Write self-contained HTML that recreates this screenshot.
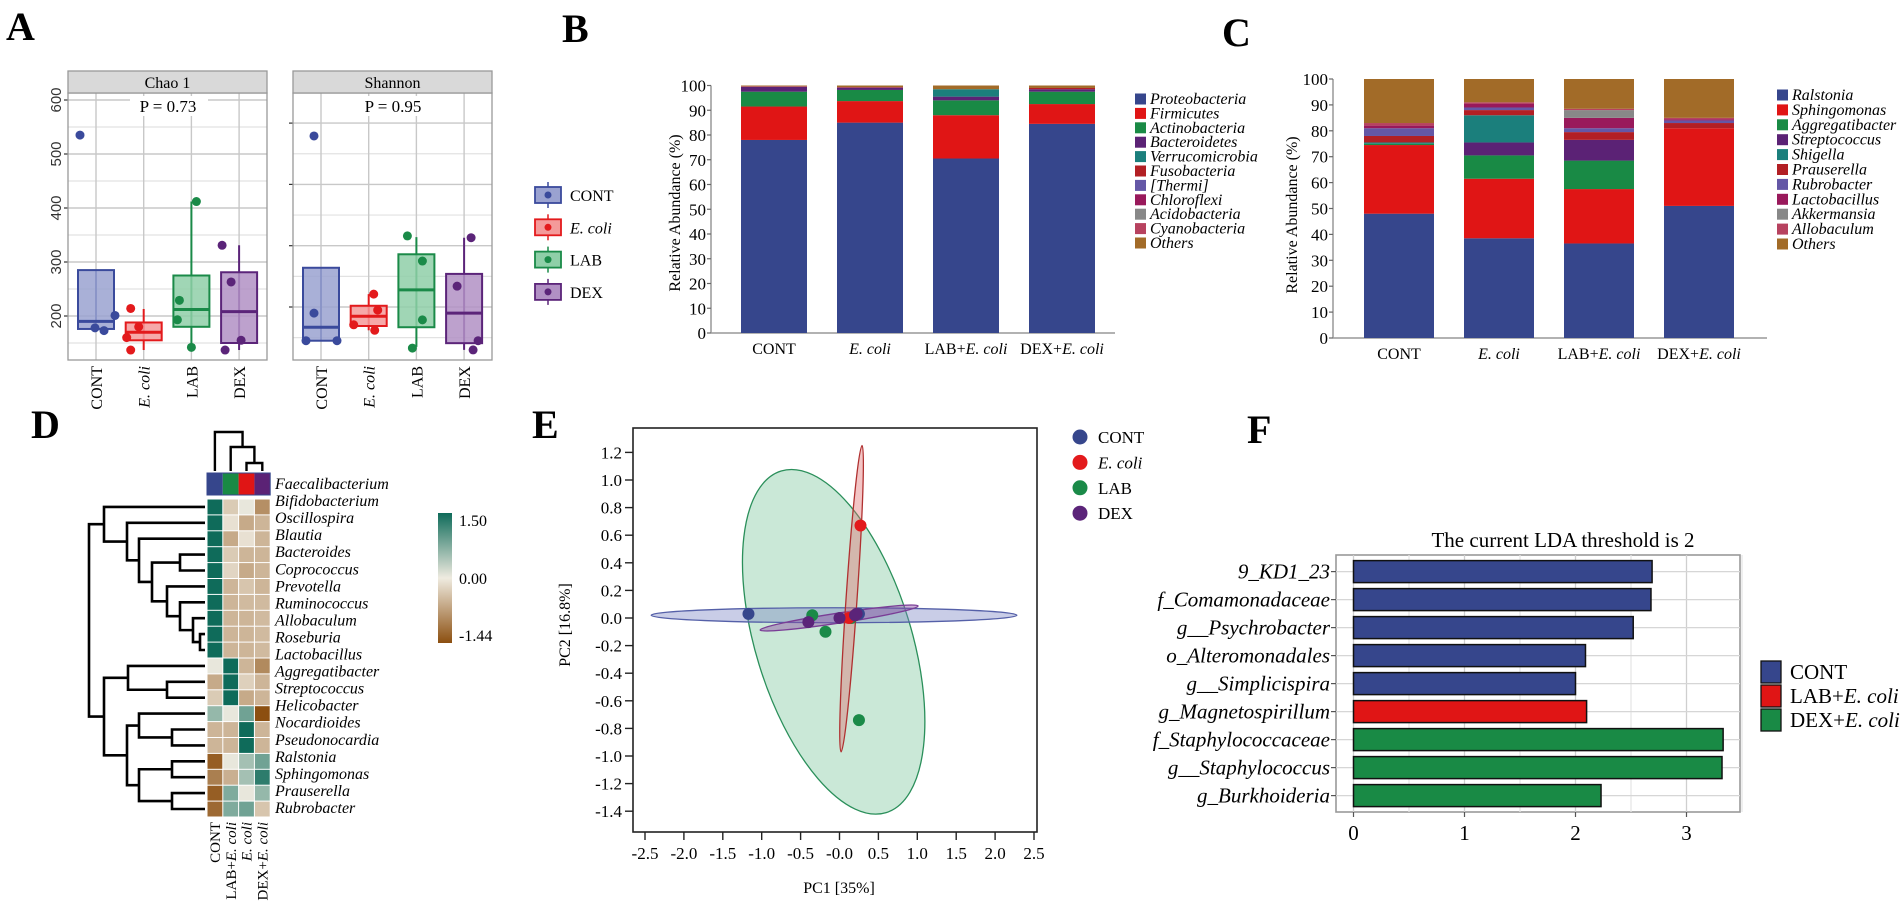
<!DOCTYPE html>
<html><head><meta charset="utf-8">
<style>
html,body{margin:0;padding:0;background:#fff;}
svg{display:block;font-family:"Liberation Serif",serif;}
.lbl{font-family:"Liberation Serif",serif;font-weight:bold;font-size:40px;}
</style></head>
<body>
<svg id="fig" xmlns="http://www.w3.org/2000/svg" width="1902" height="910" viewBox="0 0 1902 910">
<rect x="0" y="0" width="1902" height="910" fill="#fff"/>
<text class="lbl" x="6" y="40">A</text>
<text class="lbl" x="562" y="42">B</text>
<text class="lbl" x="1222" y="46">C</text>
<text class="lbl" x="31" y="438">D</text>
<text class="lbl" x="532" y="438">E</text>
<text class="lbl" x="1247" y="443">F</text>
</svg>
<script>
// ---------- DATA ----------
// Panel A (alpha diversity)
const aGroups = ['CONT','E. coli','LAB','DEX'];
const chaoQ1 = [176,155,180,150];
const chaoMed = [190,170,212,208];
const chaoQ3 = [285,188,275,281];
const chaoWlo = [176,137,142,137];
const chaoWhi = [285,213,412,331];
const chaoPts = [[535,201,178,173],[214,180,160,137],[412,229,193,142],[331,263,155,137]];
const chaoTicks = [200,300,400,500,600];
const shanQ1 = [0.45,0.69,0.67,0.41];
const shanMed = [0.67,0.85,1.28,0.90];
const shanQ3 = [1.64,1.02,1.86,1.54];
const shanWlo = [0.45,0.62,0.35,0.30];
const shanWhi = [1.64,1.21,2.14,2.13];
const shanPts = [[3.79,0.90,0.45,0.45],[1.21,0.95,0.71,0.62],[2.16,1.75,0.79,0.33],[2.13,1.34,0.45,0.30]];
const shanTicks = [1,2,3,4];
// Panel B (phylum)
const bCats = ['CONT','E. coli','LAB+E. coli','DEX+E. coli'];
const bTaxa = ['Proteobacteria','Firmicutes','Actinobacteria','Bacteroidetes','Verrucomicrobia','Fusobacteria','[Thermi]','Chloroflexi','Acidobacteria','Cyanobacteria','Others'];
const bCONT = [78,13.5,6,2,0,0.2,0,0,0,0,0.3];
const bECOLI = [85,8.7,4.5,0.8,0,0,0,0.3,0,0,0.7];
const bLAB = [70.5,17.5,6,1.5,3,0,0,0,0,0,1.5];
const bDEX = [84.5,8,5,1,0,0.5,0,0,0,0,1];
const pctTicks = [0,10,20,30,40,50,60,70,80,90,100];
// Panel C (genus)
const cTaxa = ['Ralstonia','Sphingomonas','Aggregatibacter','Streptococcus','Shigella','Prauserella','Rubrobacter','Lactobacillus','Akkermansia','Allobaculum','Others'];
const cCONT = [48,26.5,0.5,0,0.5,2.5,3,1,0,1,17];
const cECOLI = [38.5,23,9,5,10.5,2,1,1.5,0,0.5,9];
const cLAB = [36.5,21,11,8,0,3,1.5,4,3,0.5,11.5];
const cDEX = [51,30,0,0,0,2,1,0.5,0,0.5,15];
// Panel D (heatmap)
const dRowLabels = ['Faecalibacterium','Bifidobacterium','Oscillospira','Blautia','Bacteroides','Coprococcus','Prevotella','Ruminococcus','Allobaculum','Roseburia','Lactobacillus','Aggregatibacter','Streptococcus','Helicobacter','Nocardioides','Pseudonocardia','Ralstonia','Sphingomonas','Prauserella','Rubrobacter'];
const dCols = ['CONT','LAB+E. coli','E. coli','DEX+E. coli'];
const dVals = [
 [1.5,-0.3,0.05,-0.85],[1.5,-0.1,-0.6,-0.5],[1.5,-0.6,-0.1,-0.5],[1.5,-0.3,-0.5,-0.5],
 [1.5,-0.2,-0.6,-0.5],[1.5,-0.5,-0.35,-0.5],[1.5,-0.5,-0.45,-0.45],[1.5,-0.5,-0.5,-0.45],
 [1.5,-0.5,-0.5,-0.45],[1.5,-0.5,-0.5,-0.45],[0.05,1.5,-0.5,-0.9],[-0.6,1.5,-0.25,-0.5],
 [-0.3,1.5,-0.6,-0.5],[0.6,0.05,0.85,-1.44],[-0.5,-0.5,1.5,-0.5],[-0.5,-0.5,1.5,-0.5],
 [-1.3,0.05,0.5,0.85],[-1.0,-0.55,0.5,1.3],[-1.3,0.75,0.05,0.6],[-1.2,0.75,0.85,-0.35]];
const dRowMerges = [[8,9,200],[7,'n0',193],[6,'n1',180],[5,'n2',167],[3,4,180],['n4','n3',152],[2,'n5',139],[1,'n6',127],[0,'n7',104],
 [11,12,167],[10,'n9',128],[14,15,172],[13,'n11',139],[16,17,172],[18,19,172],['n13','n14',139],['n12','n15',127],['n10','n16',104],['n8','n17',89]];
const dColMerges = [[2,3,463],[1,'n0',447],[0,'n1',432]];
// Panel E (PCoA)
const eGroups = ['CONT','E. coli','LAB','DEX'];
const eXs = [[-1.17,0.22,0.25],[0.27,0.12,0.2],[-0.35,-0.18,0.25,0.15],[-0.4,0.0,0.2,0.22]];
const eYs = [[0.03,0.03,0.03],[0.67,0.0,0.02],[0.02,-0.1,-0.74,0.0],[-0.03,0.0,0.02,0.03]];
const eEll = [[-2.42,0.02,2.28,0.02],[0.29,1.25,0.02,-0.97],[-0.75,1.065,0.6,-1.41],[-1.02,-0.087,1.01,0.087]];
const eXTicks = [-2.5,-2,-1.5,-1,-0.5,0,0.5,1,1.5,2,2.5];
const eXTickLabels = ['-2.5','-2.0','-1.5','-1.0','-0.5','-0.0','0.5','1.0','1.5','2.0','2.5'];
const eYTicks = [1.2,1.0,0.8,0.6,0.4,0.2,0.0,-0.2,-0.4,-0.6,-0.8,-1.0,-1.2,-1.4];
// Panel F (LEfSe)
const fTaxa = ['9_KD1_23','f_Comamonadaceae','g__Psychrobacter','o_Alteromonadales','g__Simplicispira','g_Magnetospirillum','f_Staphylococcaceae','g__Staphylococcus','g_Burkhoideria'];
const fLDA = [2.69,2.68,2.52,2.09,2.0,2.1,3.33,3.32,2.23];
const fGroup = [0,0,0,0,0,1,2,2,2];
const fTicks = [0,1,2,3];

// ---------- HELPERS ----------
const NS='http://www.w3.org/2000/svg';
const svg=document.getElementById('fig');
function mk(tag,attrs,parent){const e=document.createElementNS(NS,tag);for(const k in attrs)e.setAttribute(k,attrs[k]);(parent||svg).appendChild(e);return e;}
function tx(str,attrs,parent){const e=mk('text',attrs,parent);e.textContent=str;return e;}
function italicLabel(str,attrs,parent){ // "LAB+E. coli" -> plain prefix + italic E. coli
  const e=mk('text',attrs,parent);const i=str.indexOf('E. coli');
  if(i<0){e.textContent=str;return e;}
  if(i>0){const t=mk('tspan',{},e);t.textContent=str.slice(0,i);}
  const t2=mk('tspan',{'font-style':'italic'},e);t2.textContent='E. coli';return e;}
function hex(c){return [parseInt(c.slice(1,3),16),parseInt(c.slice(3,5),16),parseInt(c.slice(5,7),16)];}
function mix(a,b,t){const A=hex(a),B=hex(b);return 'rgb('+A.map((v,i)=>Math.round(v+(B[i]-v)*t)).join(',')+')';}

// ---------- PANEL A ----------
const aCol=['#3a4a9c','#e31a1c','#1a8a48','#5b2479'];
const aFill=['#9aa2d0','#f49a9a','#8fcfa8','#b190c4'];
const gA=mk('g',{});


const chaoY=v=>316-(v-200)*0.54;
const shanY=u=>307-(u-1)*61.3;
function facet(left,title,yf,ticks,Q1,MED,Q3,WLO,WHI,PTS,pval,jit,showLabels,name){
  const g=mk('g',{},gA);
  
  
  const top=93,bot=360,w=199;
  // minor grid
  for(let k=0;k<ticks.length;k++){const y=yf(ticks[k])+ (yf(ticks[0])-yf(ticks[1]))/2;
    if(y>top&&y<bot){const l=mk('line',{x1:left,x2:left+w,y1:y,y2:y,stroke:'#e2e2e2','stroke-width':1.2},g);
    }}
  for(let k=0;k<ticks.length;k++){const y=yf(ticks[k]);if(y<top)continue;
    const l=mk('line',{x1:left,x2:left+w,y1:y,y2:y,stroke:'#c8c8c8','stroke-width':1.4},g);
    
    const t=mk('line',{x1:left-4,x2:left,y1:y,y2:y,stroke:'#333','stroke-width':1.2},g);
    
    if(showLabels){const lb=tx(String(ticks[k]),{x:0,y:0,transform:'translate(61,'+y+') rotate(-90)','text-anchor':'middle','font-family':'Liberation Sans, sans-serif','font-size':15,fill:'#333'},g);
      }}
  for(let i=0;i<4;i++){const x=left+28+i*47.7;
    const l=mk('line',{x1:x,x2:x,y1:top,y2:bot,stroke:'#c8c8c8','stroke-width':1.4},g);
    }
  const pb=mk('rect',{x:left+62,y:96,width:78,height:20,fill:'#fff'},g);
  
  const pt=tx('P  =  '+pval,{x:left+100,y:112,'text-anchor':'middle','font-size':17},g);
  
  for(let i=0;i<4;i++){const x=left+28+i*47.7;
    const wl=mk('line',{x1:x,x2:x,y1:yf(WHI[i]),y2:yf(WLO[i]),stroke:aCol[i],'stroke-width':2},g);
    
    const b=mk('rect',{x:x-18,y:yf(Q3[i]),width:36,height:yf(Q1[i])-yf(Q3[i]),fill:aFill[i],'fill-opacity':0.85,stroke:aCol[i],'stroke-width':2},g);
    
    const m=mk('line',{x1:x-18,x2:x+18,y1:yf(MED[i]),y2:yf(MED[i]),stroke:aCol[i],'stroke-width':3},g);
    
    for(let k=0;k<PTS[i].length;k++){const c=mk('circle',{cx:x+jit[i][k],cy:yf(PTS[i][k]),r:4.5,fill:aCol[i]},g);
      }
    const xl=tx(aGroups[i],{x:0,y:0,transform:'translate('+(x+6)+',366) rotate(-90)','text-anchor':'end','font-size':16,'font-style':i==1?'italic':'normal'},g);
    }
  const fr=mk('rect',{x:left,y:top,width:w,height:bot-top,fill:'none',stroke:'#999','stroke-width':1.3},g);
  
  const st=mk('rect',{x:left,y:71,width:w,height:22,fill:'#d9d9d9',stroke:'#999','stroke-width':1.3},g);
  
  const stt=tx(title,{x:left+w/2,y:88,'text-anchor':'middle','font-size':16},g);
  
}
facet(68,'Chao 1',chaoY,chaoTicks,chaoQ1,chaoMed,chaoQ3,chaoWlo,chaoWhi,chaoPts,'0.73',[[-16,19,-1,8],[-13,-5,-17,-13],[5,-12,-14,0],[-17,-8,2,-14]],true,'chao1-facet');
facet(293,'Shannon',shanY,shanTicks,shanQ1,shanMed,shanQ3,shanWlo,shanWhi,shanPts,'0.95',[[-7,-7,-15,16],[5,9,-15,6],[-9,6,6,-4],[7,-7,14,9]],false,'shannon-facet');
for(let i=0;i<4;i++){const y=195+i*32.3;
  const g=mk('g',{},gA);
  
  
  const l=mk('line',{x1:548,x2:548,y1:y-13,y2:y+13,stroke:aCol[i],'stroke-width':1.5},g);
  
  const r=mk('rect',{x:535,y:y-8,width:26,height:16,fill:aFill[i],stroke:aCol[i],'stroke-width':1.8},g);
  
  const c=mk('circle',{cx:548,cy:y,r:3.5,fill:aCol[i]},g);
  
  const t=tx(aGroups[i],{x:570,y:y+6,'font-size':16,'font-style':i==1?'italic':'normal'},g);
  }

// ---------- PANELS B & C (stacked bars) ----------
const pal=['#36468c','#e01515','#198a45','#5b2275','#1b7f7c','#b21f24','#6457a6','#99195b','#888888','#b7425f','#a26b28'];
function stacked(name,axisX,zeroY,per10,barX0,pitch,bw,series,taxa,legX,legY0,legStep,axisEnd,labelX,labelY){
  const g=mk('g',{});
  
  
  const yS=v=>zeroY-v*per10/10;
  const ax=mk('line',{x1:axisX,x2:axisX,y1:yS(100),y2:zeroY,stroke:'#999','stroke-width':1.5},g);
  
  const xa=mk('line',{x1:axisX,x2:axisEnd,y1:zeroY,y2:zeroY,stroke:'#999','stroke-width':1.5},g);
  
  for(const t of pctTicks){const tk=mk('line',{x1:axisX-4,x2:axisX,y1:yS(t),y2:yS(t),stroke:'#666','stroke-width':1.2},g);
    
    const tl=tx(String(t),{x:axisX-5,y:yS(t)+6,'text-anchor':'end','font-size':17},g);
    }
  const yl=tx('Relative Abundance (%)',{x:0,y:0,transform:'translate('+labelX+','+labelY+') rotate(-90)','text-anchor':'middle','font-size':16},g);
  
  for(let i=0;i<series.length;i++){let acc=0;const x=barX0+i*pitch;
    for(let k=0;k<series[i].length;k++){const v=series[i][k];if(v<=0)continue;
      const r=mk('rect',{x:x,y:yS(acc+v),width:bw,height:v*per10/10,fill:pal[k]},g);
      
      acc+=v;}
    const xl=italicLabel(bCats[i],{x:x+bw/2,y:zeroY+21,'text-anchor':'middle','font-size':16},g);
    }
  for(let k=0;k<taxa.length;k++){const y=legY0+k*legStep;
    const s=mk('rect',{x:legX,y:y-5.5,width:11,height:11,fill:pal[k]},g);
    
    const t=tx(taxa[k],{x:legX+15,y:y+5,'font-size':16,'font-style':taxa[k]=='Others'?'italic':'italic'},g);
    }
}
stacked('panel-b-phylum-abundance',711,333,24.75,741,96,66,[bCONT,bECOLI,bLAB,bDEX],bTaxa,1135,99,14.4,1115,680,213);
stacked('panel-c-genus-abundance',1333,338,25.9,1364,100,70,[cCONT,cECOLI,cLAB,cDEX],cTaxa,1777,95,14.9,1767,1297,215);

// ---------- PANEL D (heatmap) ----------
const gD=mk('g',{});


const hx=j=>207+j*15.8, hy=i=>499+i*15.9;
function heat(v){return v>=0?mix('#efebe0','#0f6b5a',Math.min(1,v/1.5)):mix('#efebe0','#8c4f10',Math.min(1,-v/1.44));}
const hdrCol=['#36468c','#198a45','#e01515','#5b2275'];
for(let j=0;j<4;j++){const r=mk('rect',{x:hx(j),y:473,width:15.8,height:22,fill:hdrCol[j]},gD);
  }
const hb=mk('rect',{x:207,y:473,width:63.2,height:22,fill:'none',stroke:'#36468c','stroke-width':1},gD);

for(let i=0;i<dVals.length;i++)for(let j=0;j<4;j++){
  const r=mk('rect',{x:hx(j)+0.5,y:hy(i)+0.5,width:14.8,height:14.9,fill:heat(dVals[i][j])},gD);
  }
for(let i=0;i<dRowLabels.length;i++){const t=tx(dRowLabels[i],{x:275,y:489+i*17.05,'font-size':16,'font-style':'italic'},gD);
  }
for(let j=0;j<4;j++){const t=italicLabel(dCols[j],{x:0,y:0,transform:'translate('+(hx(j)+13)+',822) rotate(-90)','text-anchor':'end','font-size':15},gD);
  }
// row dendrogram
(function(){const pos={};const leafY=i=>hy(i)+7.9;
  function get(c){return typeof c==='number'?{x:205,y:leafY(c)}:pos[c];}
  dRowMerges.forEach((m,k)=>{const a=get(m[0]),b=get(m[1]),x=m[2];
    const p=mk('path',{d:'M'+a.x+','+a.y+'H'+x+'V'+b.y+'H'+b.x,fill:'none',stroke:'#000','stroke-width':2.6},gD);
    
    pos['n'+k]={x:x,y:(a.y+b.y)/2};});
})();
(function(){const pos={};const leafX=j=>hx(j)+7.9;
  function get(c){return typeof c==='number'?{x:leafX(c),y:471}:pos[c];}
  dColMerges.forEach((m,k)=>{const a=get(m[0]),b=get(m[1]),y=m[2];
    const p=mk('path',{d:'M'+a.x+','+a.y+'V'+y+'H'+b.x+'V'+b.y,fill:'none',stroke:'#000','stroke-width':2.4},gD);
    
    pos['n'+k]={x:(a.x+b.x)/2,y:y};});
})();
const defs=mk('defs',{});
const lg=mk('linearGradient',{id:'hg',x1:0,y1:0,x2:0,y2:1},defs);
[['0','#0f6b5a'],['0.5','#efebe0'],['1','#8c4f10']].forEach(s=>mk('stop',{offset:s[0],'stop-color':s[1]},lg));
const cb=mk('rect',{x:438,y:513,width:14,height:130,fill:'url(#hg)'},gD);

[['1.50',526],['0.00',584],['-1.44',641]].forEach(a=>{const t=tx(a[0],{x:459,y:a[1],'font-size':16},gD);
  });

// ---------- PANEL E (PCoA) ----------
const gE=mk('g',{});


const eX=v=>839.5+v*77.8, eY=v=>618-v*138;
const eCol=['#36468c','#e31a1c','#1a8a48','#5b2479'];
const eFill=['rgba(120,130,195,0.4)','rgba(225,110,110,0.4)','rgba(150,210,175,0.5)','rgba(140,80,165,0.45)'];
const eStroke=['#5560a8','#b03030','#2a8f5a','#7a3d96'];
const eMinor=[7.5,5.5,78,5];
const ef=mk('rect',{x:633,y:428,width:404,height:404,fill:'#fff',stroke:'#222','stroke-width':1.6},gE);

[2,0,3,1].forEach(i=>{const e=eEll[i];const x1=eX(e[0]),y1=eY(e[1]),x2=eX(e[2]),y2=eY(e[3]);
  const cx=(x1+x2)/2,cy=(y1+y2)/2,a=Math.hypot(x2-x1,y2-y1)/2,ang=Math.atan2(y2-y1,x2-x1)*180/Math.PI;
  const el=mk('ellipse',{cx:cx,cy:cy,rx:a,ry:eMinor[i],transform:'rotate('+ang+' '+cx+' '+cy+')',fill:eFill[i],stroke:eStroke[i],'stroke-width':1.3},gE);
  });
[0,2,1,3].forEach(i=>{for(let k=0;k<eXs[i].length;k++){
  const c=mk('circle',{cx:eX(eXs[i][k]),cy:eY(eYs[i][k]),r:6,fill:eCol[i]},gE);
  }});
eYTicks.forEach(v=>{const y=eY(v);
  const t=mk('line',{x1:625,x2:633,y1:y,y2:y,stroke:'#222','stroke-width':1.4},gE);
  
  const l=tx(v.toFixed(1),{x:622,y:y+6,'text-anchor':'end','font-size':17},gE);
  });
eXTicks.forEach((v,k)=>{const x=eX(v);
  const t=mk('line',{x1:x,x2:x,y1:832,y2:840,stroke:'#222','stroke-width':1.4},gE);
  
  const l=tx(eXTickLabels[k],{x:x,y:859,'text-anchor':'middle','font-size':17},gE);
  });
const exl=tx('PC1 [35%]',{x:839,y:893,'text-anchor':'middle','font-size':16},gE);

const eyl=tx('PC2 [16.8%]',{x:0,y:0,transform:'translate(570,625) rotate(-90)','text-anchor':'middle','font-size':16},gE);

for(let i=0;i<4;i++){const y=437+i*25.4;
  const c=mk('circle',{cx:1080,cy:y,r:7.5,fill:eCol[i]},gE);
  
  const t=tx(eGroups[i],{x:1098,y:y+6,'font-size':17,'font-style':i==1?'italic':'normal'},gE);
  }

// ---------- PANEL F (LDA) ----------
const gF=mk('g',{});


const fX=v=>1353.5+v*111, fY=i=>571.6+i*28;
const fCol=['#36468c','#e01515','#198a45'];
const fNames=['CONT','LAB+E. coli','DEX+E. coli'];
const fb=mk('rect',{x:1336,y:555,width:404,height:257,fill:'#fff',stroke:'#999','stroke-width':1.6},gF);

for(let v=0;v<=3.5;v+=0.5){const gl=mk('line',{x1:fX(v),x2:fX(v),y1:555,y2:812,stroke:Number.isInteger(v)?'#cfcfcf':'#e6e6e6','stroke-width':1.3},gF);
  }
for(let i=0;i<fTaxa.length;i++){const y=fY(i);
  const gl=mk('line',{x1:1336,x2:1740,y1:y,y2:y,stroke:'#d6d6d6','stroke-width':1.2},gF);
  }
for(let i=0;i<fTaxa.length;i++){const y=fY(i);
  const r=mk('rect',{x:fX(0),y:y-11,width:fX(fLDA[i])-fX(0),height:22,fill:fCol[fGroup[i]],stroke:'#111','stroke-width':1.5},gF);
  
  const tk=mk('line',{x1:1331,x2:1336,y1:y,y2:y,stroke:'#555','stroke-width':1.2},gF);
  
  const l=tx(fTaxa[i],{x:1330,y:y+7,'text-anchor':'end','font-size':21,'font-style':'italic'},gF);
  }
fTicks.forEach(v=>{const t=mk('line',{x1:fX(v),x2:fX(v),y1:812,y2:817,stroke:'#555','stroke-width':1.2},gF);
  
  const l=tx(String(v),{x:fX(v),y:840,'text-anchor':'middle','font-size':21},gF);
  });
const ft=tx('The current LDA threshold is 2',{x:1563,y:547,'text-anchor':'middle','font-size':21},gF);

for(let k=0;k<3;k++){const y=661+k*24;
  const r=mk('rect',{x:1761,y:y,width:20,height:22,fill:fCol[k],stroke:'#111','stroke-width':1.3},gF);
  
  const t=italicLabel(fNames[k],{x:1790,y:y+18,'font-size':21},gF);
  }
</script>
</body></html>
